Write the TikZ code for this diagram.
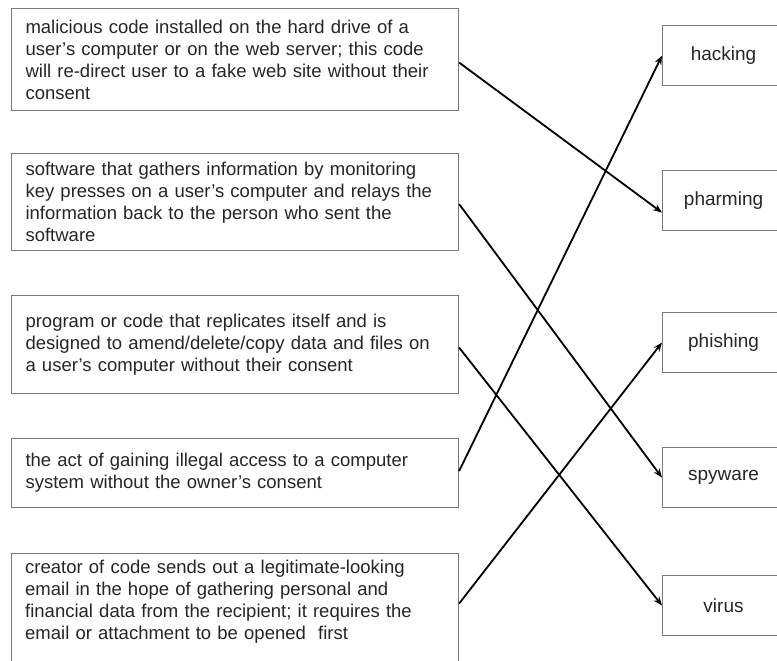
\documentclass[tikz,border=0pt]{standalone}
\usepackage{fontspec}
\setmainfont{Liberation Sans}
\usetikzlibrary{arrows.meta}
\definecolor{boxgray}{HTML}{7A7A7A}
\definecolor{txt}{HTML}{262626}
\tikzset{
  desc/.style={draw=boxgray, line width=1.1pt, anchor=north west, minimum width=447pt,
    text width=419pt, inner xsep=14pt, align=left, font=\fontsize{18.5}{22}\selectfont, text=txt},
  desctext/.style={anchor=north west, text width=419pt, inner sep=0pt, align=left,
    font=\fontsize{18.5}{22}\selectfont, text=txt},
  term/.style={draw=boxgray, line width=1.1pt, anchor=north west, minimum width=122pt,
    minimum height=60pt, inner sep=0pt, font=\fontsize{19}{20}\selectfont, text=txt},
  link/.style={line width=1.8pt, -{Stealth[length=9pt,width=7pt]}}
}
\begin{document}
\begin{tikzpicture}[x=1pt,y=-1pt]
\useasboundingbox (0,0) rectangle (777,661);
\clip (0,0) rectangle (777,661);
\fill[white] (0,0) rectangle (777,661);
\node[desc, minimum height=102pt] (b1) at (11,8) {malicious code installed on the hard drive of a\\user’s computer or on the web server; this code\\will re-direct user to a fake web site without their\\consent};
\node[desc, minimum height=97pt] (b2) at (11,153) {software that gathers information by monitoring\\key presses on a user’s computer and relays the\\information back to the person who sent the\\software};
\node[desc, minimum height=98pt] (b3) at (11,295) {program or code that replicates itself and is\\designed to amend/delete/copy data and files on\\a user’s computer without their consent};
\node[desc, minimum height=69pt] (b4) at (11,438) {the act of gaining illegal access to a computer\\system without the owner’s consent};
\node[desc, minimum height=128pt] (b5) at (11,553) {};
\node[desctext] (b5t) at ([xshift=14pt,yshift=-7pt]b5.north west) {creator of code sends out a legitimate-looking\\email in the hope of gathering personal and\\financial data from the recipient; it requires the\\email or attachment to be opened\ \ first};

\node[term] (hack) at (662,25) {hacking};
\node[term] (pharm) at (662,170) {pharming};
\node[term] (phish) at (662,312) {phishing};
\node[term] (spy) at (662,447) {spyware};
\node[term] (vir) at (662,575) {virus};

\draw[link] ([yshift=-3pt]b1.east) -- ([yshift=-12pt]pharm.west);
\draw[link] ([yshift=-2pt]b2.east) -- (spy.west);
\draw[link] ([yshift=-3pt]b3.east) -- (vir.west);
\draw[link] ([yshift=2pt]b4.east) -- (hack.west);
\draw[link] ([yshift=14pt]b5.east) -- (phish.west);
\end{tikzpicture}
\end{document}
